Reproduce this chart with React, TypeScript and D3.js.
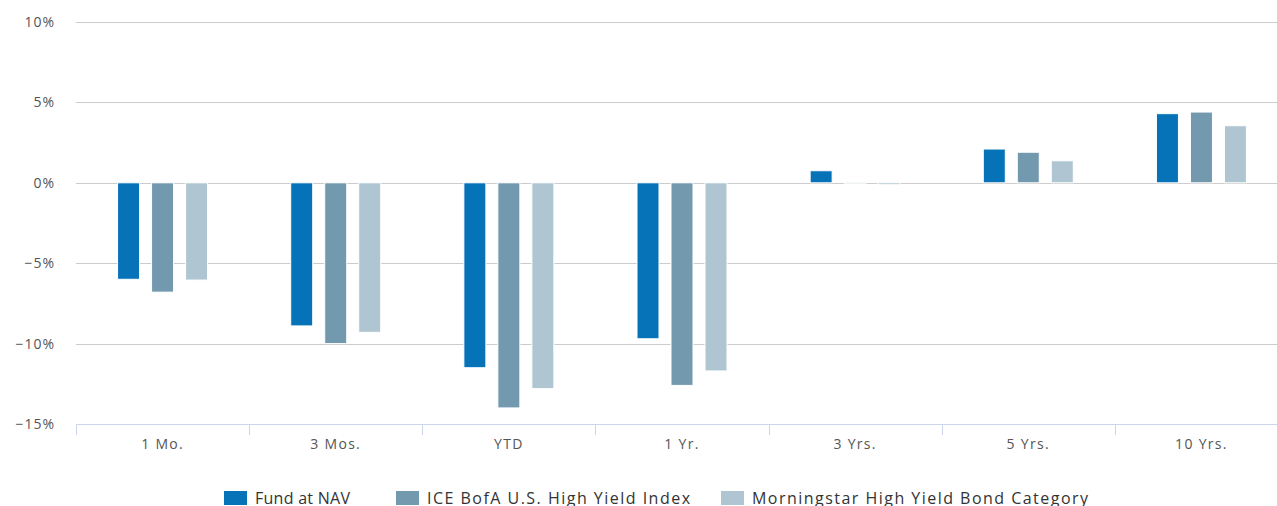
import React from "react";
import * as d3 from "d3";

const categories = ["1 Mo.", "3 Mos.", "YTD", "1 Yr.", "3 Yrs.", "5 Yrs.", "10 Yrs."];
const seriesNames = ["Fund at NAV", "ICE BofA U.S. High Yield Index", "Morningstar High Yield Bond Category"];
const fundValues = [-6.0, -8.9, -11.5, -9.7, 0.75, 2.1, 4.3];
const indexValues = [-6.8, -10.0, -14.0, -12.6, 0.0, 1.9, 4.4];
const categoryValues = [-6.05, -9.3, -12.8, -11.7, -0.12, 1.37, 3.55];
const seriesColors = ["#0673b8", "#7399ae", "#afc6d2"];
const yTicks = [-15, -10, -5, 0, 5, 10];

const W = 1277;
const H = 506;
const left = 76;
const right = 1288;
const top = 22;
const bottom = 424;

export default function App() {
  const series = [fundValues, indexValues, categoryValues];
  const x = d3.scaleBand<string>().domain(categories).range([left, right]);
  const y = d3.scaleLinear().domain([-15, 10]).range([bottom, top]);
  const sub = d3.scaleBand<number>().domain([0, 1, 2]).range([-45, 45]).paddingInner(0.353).paddingOuter(0);
  const fmt = (v: number) => (v < 0 ? "\u2212" + Math.abs(v) : String(v)) + "%";
  const font = "'Open Sans', 'DejaVu Sans', sans-serif";

  const legendX = [224, 396, 721];
  const legendTextLen = [95, 263, 336];

  return (
    <svg width={W} height={H} style={{ position: "absolute", left: 0, top: 0, fontFamily: font }}>
      <rect x={0} y={0} width={W} height={H} fill="#ffffff" />
      {yTicks.map((t) =>
        t === -15 ? null : (
          <line key={"g" + t} x1={left} x2={right} y1={Math.round(y(t)) + 0.5} y2={Math.round(y(t)) + 0.5} stroke="#cccccc" strokeWidth={1} />
        )
      )}
      {yTicks.map((t) => (
        <text key={"yl" + t} x={55} y={y(t) + 5} textAnchor="end" fontSize={14} fill="#555555" letterSpacing={1}>
          {fmt(t)}
        </text>
      ))}
      {series.map((vals, si) =>
        vals.map((v, ci) => {
          const cx = (x(categories[ci]) as number) + x.bandwidth() / 2;
          const bx = cx + (sub(si) as number);
          const y0 = y(0);
          const y1 = y(v);
          return (
            <rect
              key={si + "-" + ci}
              x={bx}
              y={Math.min(y0, y1)}
              width={sub.bandwidth()}
              height={Math.max(Math.abs(y1 - y0), 0.5)}
              fill={seriesColors[si]}
              stroke="#ffffff"
              strokeWidth={1}
            />
          );
        })
      )}
      <line x1={left} x2={right} y1={bottom + 0.5} y2={bottom + 0.5} stroke="#ccd6eb" strokeWidth={1} />
      {categories.map((c) => {
        const xt = Math.round(x(c) as number) + 0.5;
        return <line key={"t" + c} x1={xt} x2={xt} y1={bottom} y2={bottom + 11} stroke="#ccd6eb" strokeWidth={1} />;
      })}
      {categories.map((c) => (
        <text key={"xl" + c} x={(x(c) as number) + x.bandwidth() / 2} y={449} textAnchor="middle" fontSize={14} fill="#555555" letterSpacing={1.3}>
          {c}
        </text>
      ))}
      {seriesNames.map((n, i) => (
        <g key={"lg" + i}>
          <rect x={legendX[i]} y={491} width={23} height={14} fill={seriesColors[i]} />
          <text x={legendX[i] + 31} y={504} fontSize={16} fill="#333333" textLength={legendTextLen[i]} lengthAdjust="spacing">
            {n}
          </text>
        </g>
      ))}
    </svg>
  );
}
